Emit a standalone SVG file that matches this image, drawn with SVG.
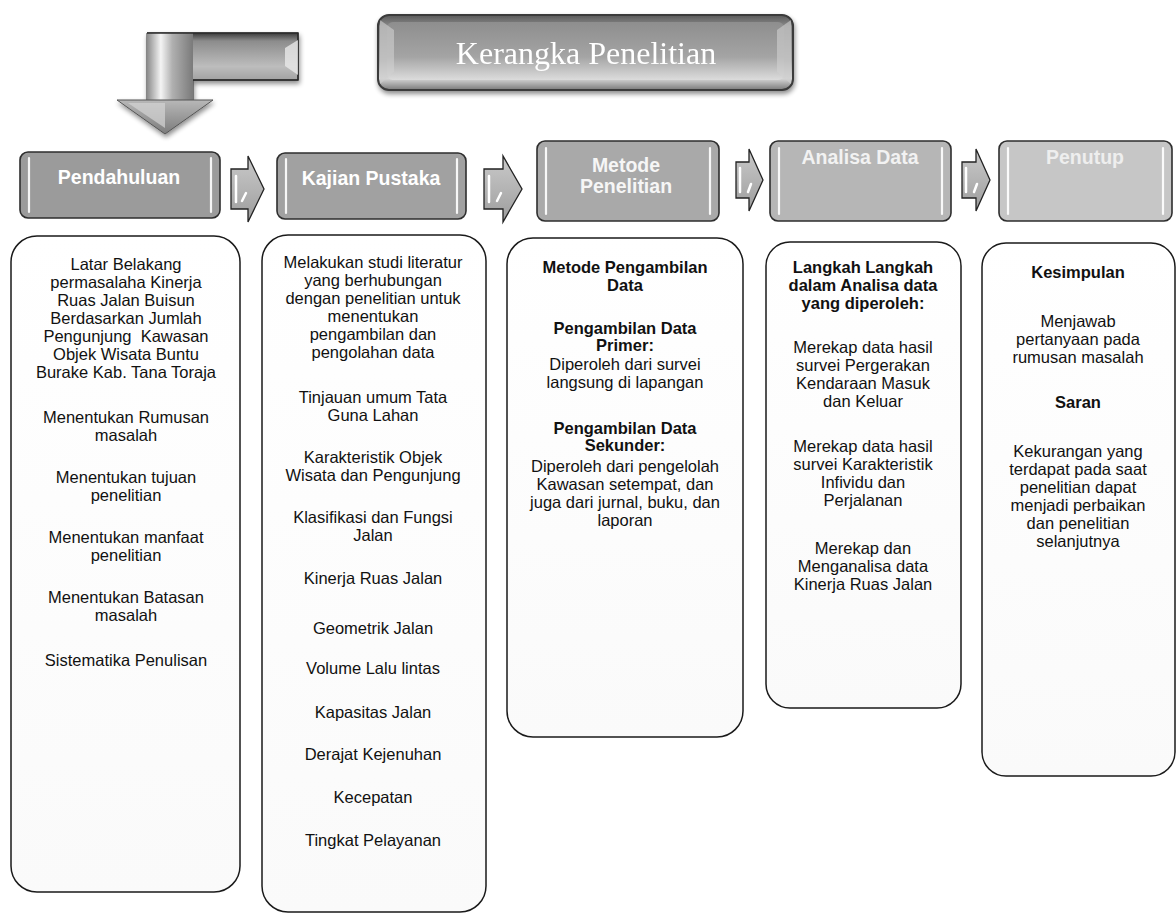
<svg xmlns="http://www.w3.org/2000/svg" width="1176" height="913" viewBox="0 0 1176 913">
<defs>
<linearGradient id="gTitle" x1="0" y1="0" x2="0" y2="1">
<stop offset="0" stop-color="#5a5a5a"/>
<stop offset="0.15" stop-color="#8a8a8a"/>
<stop offset="0.6" stop-color="#a6a6a6"/>
<stop offset="0.85" stop-color="#d4d4d4"/>
<stop offset="1" stop-color="#7a7a7a"/>
</linearGradient>
<linearGradient id="gTitleIn" x1="0" y1="0" x2="0" y2="1">
<stop offset="0" stop-color="#8e8e8e"/>
<stop offset="0.6" stop-color="#a4a4a4"/>
<stop offset="1" stop-color="#dcdcdc"/>
</linearGradient>
<linearGradient id="gArrowBar" x1="0" y1="0" x2="0" y2="1">
<stop offset="0" stop-color="#3a3a3a"/>
<stop offset="0.12" stop-color="#8c8c8c"/>
<stop offset="0.5" stop-color="#bdbdbd"/>
<stop offset="0.88" stop-color="#8a8a8a"/>
<stop offset="1" stop-color="#555"/>
</linearGradient>
<linearGradient id="gArrowStem" x1="0" y1="0" x2="1" y2="0">
<stop offset="0" stop-color="#8a8a8a"/>
<stop offset="0.3" stop-color="#f4f4f4"/>
<stop offset="0.55" stop-color="#b0b0b0"/>
<stop offset="1" stop-color="#7a7a7a"/>
</linearGradient>
<linearGradient id="gArrowHead" x1="0" y1="0" x2="0" y2="1">
<stop offset="0" stop-color="#b8b8b8"/>
<stop offset="1" stop-color="#7c7c7c"/>
</linearGradient>
<linearGradient id="gSmallArrow" x1="0" y1="0" x2="0" y2="1">
<stop offset="0" stop-color="#c9c9c9"/>
<stop offset="0.5" stop-color="#b4b4b4"/>
<stop offset="1" stop-color="#9c9c9c"/>
</linearGradient>
<linearGradient id="gBox" x1="0" y1="0" x2="0" y2="1">
<stop offset="0" stop-color="#ffffff"/>
<stop offset="1" stop-color="#fafafa"/>
</linearGradient>
<filter id="shadow" x="-10%" y="-10%" width="130%" height="140%">
<feGaussianBlur in="SourceAlpha" stdDeviation="2.5"/>
<feOffset dx="1" dy="3" result="b"/>
<feComponentTransfer><feFuncA type="linear" slope="0.45"/></feComponentTransfer>
<feMerge><feMergeNode/><feMergeNode in="SourceGraphic"/></feMerge>
</filter>
</defs>
<style>
.hdr { stroke:#2e2e2e; stroke-width:1.6; }
.hl { stroke:#ffffff; stroke-width:2.2; stroke-linecap:round; opacity:0.9; fill:none; }
.htxt { font-family:"Liberation Sans", Arial, sans-serif; font-weight:bold; font-size:19.5px; text-anchor:middle; }
.box { fill:url(#gBox); stroke:#1a1a1a; stroke-width:1.5; }
.t { font-family:"Liberation Sans", Arial, sans-serif; font-size:16.5px; fill:#111; text-anchor:middle; }
.b { font-weight:bold; }
.arr { fill:url(#gSmallArrow); stroke:#222; stroke-width:1.3; stroke-linejoin:miter; }
.ahl { fill:none; stroke:#ffffff; stroke-width:2.5; stroke-linecap:round; }
</style>
<rect width="1176" height="913" fill="#ffffff"/>

<!-- Decorative bent arrow -->
<g id="bent-arrow" filter="url(#shadow)">
<path d="M147,33 L298,33 L298,80 L193,80 L193,100 L147,100 Z" fill="url(#gArrowBar)" stroke="#333" stroke-width="1"/>
<path d="M147,33 L193,33 L193,100 L147,100 Z" fill="url(#gArrowStem)"/>
<path d="M147,33 L298,33 L298,80 L193,80" fill="none" stroke="#2a2a2a" stroke-width="1.5"/>
<path d="M285,48 L298,40 L298,75 L285,66 Z" fill="#e8e8e8" opacity="0.8"/>
<path d="M117,100 L213,100 L165,134 Z" fill="url(#gArrowHead)" stroke="#555" stroke-width="1"/>
<path d="M128,103 L165,103 L165,128 Z" fill="#d4d4d4" opacity="0.7"/>
</g>

<!-- Title -->
<g id="title" filter="url(#shadow)">
<rect x="378" y="15" width="415" height="75" rx="11" fill="url(#gTitle)" stroke="#3a3a3a" stroke-width="2"/>
<rect x="387" y="22" width="397" height="58" rx="6" fill="url(#gTitleIn)"/>
<path d="M380,20 L394,30 L394,72 L380,84 Z" fill="#d0d0d0" opacity="0.6"/>
<path d="M791,20 L777,30 L777,72 L791,84 Z" fill="#d0d0d0" opacity="0.6"/>
<text x="586" y="64" font-family="'Liberation Serif', 'Times New Roman', serif" font-size="32" fill="#ffffff" text-anchor="middle">Kerangka Penelitian</text>
</g>

<!-- Headers -->
<g id="hdr-pendahuluan">
<rect class="hdr" x="20" y="152" width="200" height="66" rx="8" fill="#9b9b9b"/>
<line class="hl" x1="29" y1="158" x2="29" y2="212"/>
<line class="hl" x1="211" y1="158" x2="211" y2="212"/>
<text class="htxt" x="119" y="184" fill="#ffffff">Pendahuluan</text>
</g>
<g id="hdr-kajian">
<rect class="hdr" x="277" y="153" width="189" height="66" rx="8" fill="#a1a1a1"/>
<line class="hl" x1="286" y1="159" x2="286" y2="213"/>
<line class="hl" x1="457" y1="159" x2="457" y2="213"/>
<text class="htxt" x="371" y="185" fill="#ffffff">Kajian Pustaka</text>
</g>
<g id="hdr-metode">
<rect class="hdr" x="537" y="141" width="182" height="80" rx="8" fill="#a9a9a9"/>
<line class="hl" x1="546" y1="148" x2="546" y2="214"/>
<line class="hl" x1="710" y1="148" x2="710" y2="214"/>
<text class="htxt" x="626" y="172" fill="#f6f6f6">Metode</text>
<text class="htxt" x="626" y="193" fill="#f6f6f6">Penelitian</text>
</g>
<g id="hdr-analisa">
<rect class="hdr" x="770" y="141" width="181" height="80" rx="8" fill="#b6b6b6"/>
<line class="hl" x1="779" y1="148" x2="779" y2="214"/>
<line class="hl" x1="942" y1="148" x2="942" y2="214"/>
<text class="htxt" x="860" y="164" fill="#f2f2f2">Analisa Data</text>
</g>
<g id="hdr-penutup">
<rect class="hdr" x="999" y="141" width="173" height="80" rx="8" fill="#c6c6c6"/>
<line class="hl" x1="1008" y1="148" x2="1008" y2="214"/>
<line class="hl" x1="1163" y1="148" x2="1163" y2="214"/>
<text class="htxt" x="1085" y="164" fill="#eeeeee">Penutup</text>
</g>

<!-- Connectors -->
<g id="connectors">
<g>
<path class="arr" d="M231,169 L248,169 L248,156 L264,189 L248,222 L248,209 L231,209 Z"/>
<path class="ahl" d="M236,176 L236,202 M246,193 L242,201"/>
</g>
<g>
<path class="arr" d="M484,169 L503,169 L503,156 L522,189 L503,222 L503,209 L484,209 Z"/>
<path class="ahl" d="M489,176 L489,202 M501,193 L497,201"/>
</g>
<g>
<path class="arr" d="M736,162 L749,162 L749,149 L763,180 L749,211 L749,198 L736,198 Z"/>
<path class="ahl" d="M740,168 L740,192 M751,184 L748,192"/>
</g>
<g>
<path class="arr" d="M962,162 L976,162 L976,149 L990,180 L976,211 L976,198 L962,198 Z"/>
<path class="ahl" d="M966,168 L966,192 M977,184 L974,192"/>
</g>
</g>

<!-- Box 1 -->
<g id="box-pendahuluan">
<rect class="box" x="11" y="236" width="229" height="656" rx="26"/>
<text class="t" x="126" y="270">Latar Belakang</text>
<text class="t" x="126" y="288">permasalaha Kinerja</text>
<text class="t" x="126" y="306">Ruas Jalan Buisun</text>
<text class="t" x="126" y="324">Berdasarkan Jumlah</text>
<text class="t" x="126" y="342" xml:space="preserve">Pengunjung  Kawasan</text>
<text class="t" x="126" y="360">Objek Wisata Buntu</text>
<text class="t" x="126" y="378">Burake Kab. Tana Toraja</text>
<text class="t" x="126" y="423">Menentukan Rumusan</text>
<text class="t" x="126" y="441">masalah</text>
<text class="t" x="126" y="483">Menentukan tujuan</text>
<text class="t" x="126" y="501">penelitian</text>
<text class="t" x="126" y="543">Menentukan manfaat</text>
<text class="t" x="126" y="561">penelitian</text>
<text class="t" x="126" y="603">Menentukan Batasan</text>
<text class="t" x="126" y="621">masalah</text>
<text class="t" x="126" y="666">Sistematika Penulisan</text>
</g>

<!-- Box 2 -->
<g id="box-kajian">
<rect class="box" x="262" y="235" width="224" height="677" rx="26"/>
<text class="t" x="373" y="268">Melakukan studi literatur</text>
<text class="t" x="373" y="286">yang berhubungan</text>
<text class="t" x="373" y="304">dengan penelitian untuk</text>
<text class="t" x="373" y="322">menentukan</text>
<text class="t" x="373" y="340">pengambilan dan</text>
<text class="t" x="373" y="358">pengolahan data</text>
<text class="t" x="373" y="403">Tinjauan umum Tata</text>
<text class="t" x="373" y="421">Guna Lahan</text>
<text class="t" x="373" y="463">Karakteristik Objek</text>
<text class="t" x="373" y="481">Wisata dan Pengunjung</text>
<text class="t" x="373" y="523">Klasifikasi dan Fungsi</text>
<text class="t" x="373" y="541">Jalan</text>
<text class="t" x="373" y="584">Kinerja Ruas Jalan</text>
<text class="t" x="373" y="634">Geometrik Jalan</text>
<text class="t" x="373" y="674">Volume Lalu lintas</text>
<text class="t" x="373" y="718">Kapasitas Jalan</text>
<text class="t" x="373" y="760">Derajat Kejenuhan</text>
<text class="t" x="373" y="803">Kecepatan</text>
<text class="t" x="373" y="846">Tingkat Pelayanan</text>
</g>

<!-- Box 3 -->
<g id="box-metode">
<rect class="box" x="507" y="238" width="236" height="499" rx="26"/>
<text class="t b" x="625" y="273">Metode Pengambilan</text>
<text class="t b" x="625" y="291">Data</text>
<text class="t b" x="625" y="334">Pengambilan Data</text>
<text class="t b" x="625" y="351">Primer:</text>
<text class="t" x="625" y="370">Diperoleh dari survei</text>
<text class="t" x="625" y="388">langsung di lapangan</text>
<text class="t b" x="625" y="434">Pengambilan Data</text>
<text class="t b" x="625" y="451">Sekunder:</text>
<text class="t" x="625" y="472">Diperoleh dari pengelolah</text>
<text class="t" x="625" y="490">Kawasan setempat, dan</text>
<text class="t" x="625" y="508">juga dari jurnal, buku, dan</text>
<text class="t" x="625" y="526">laporan</text>
</g>

<!-- Box 4 -->
<g id="box-analisa">
<rect class="box" x="766" y="242" width="195" height="466" rx="24"/>
<text class="t b" x="863" y="273">Langkah Langkah</text>
<text class="t b" x="863" y="291">dalam Analisa data</text>
<text class="t b" x="863" y="309">yang diperoleh:</text>
<text class="t" x="863" y="353">Merekap data hasil</text>
<text class="t" x="863" y="371">survei Pergerakan</text>
<text class="t" x="863" y="389">Kendaraan Masuk</text>
<text class="t" x="863" y="407">dan Keluar</text>
<text class="t" x="863" y="452">Merekap data hasil</text>
<text class="t" x="863" y="470">survei Karakteristik</text>
<text class="t" x="863" y="488">Infividu dan</text>
<text class="t" x="863" y="506">Perjalanan</text>
<text class="t" x="863" y="554">Merekap dan</text>
<text class="t" x="863" y="572">Menganalisa data</text>
<text class="t" x="863" y="590">Kinerja Ruas Jalan</text>
</g>

<!-- Box 5 -->
<g id="box-penutup">
<rect class="box" x="982" y="243" width="193" height="533" rx="24"/>
<text class="t b" x="1078" y="278">Kesimpulan</text>
<text class="t" x="1078" y="327">Menjawab</text>
<text class="t" x="1078" y="345">pertanyaan pada</text>
<text class="t" x="1078" y="363">rumusan masalah</text>
<text class="t b" x="1078" y="408">Saran</text>
<text class="t" x="1078" y="457">Kekurangan yang</text>
<text class="t" x="1078" y="475">terdapat pada saat</text>
<text class="t" x="1078" y="493">penelitian dapat</text>
<text class="t" x="1078" y="511">menjadi perbaikan</text>
<text class="t" x="1078" y="529">dan penelitian</text>
<text class="t" x="1078" y="547">selanjutnya</text>
</g>
</svg>
